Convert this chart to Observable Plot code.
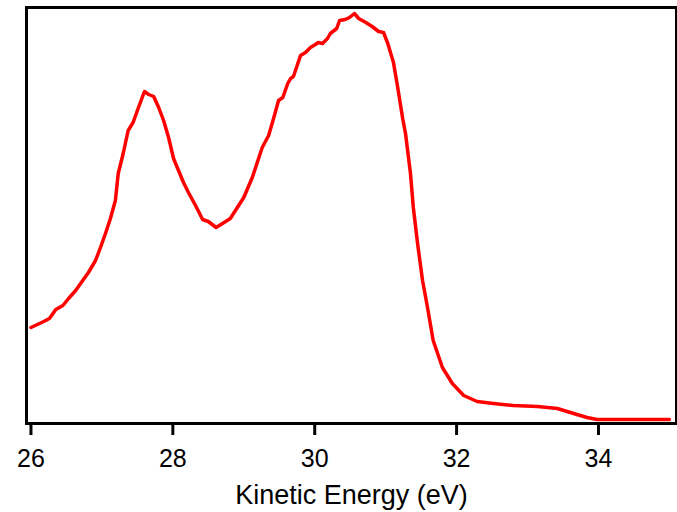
<!DOCTYPE html>
<html>
<head>
<meta charset="utf-8">
<script src="https://cdn.jsdelivr.net/npm/d3@7"></script>
<script src="https://cdn.jsdelivr.net/npm/@observablehq/plot@0.6"></script>
<style>
  html, body { margin: 0; padding: 0; background: #fff; }
</style>
</head>
<body>
<div id="chart"></div>
<script>
// Kinetic energy (eV)
const energy = [
  26.00, 26.18, 26.26, 26.35, 26.45, 26.53, 26.63, 26.70, 26.81, 26.91,
  26.98, 27.05, 27.12, 27.19, 27.23, 27.30, 27.37, 27.44, 27.50, 27.60,
  27.66, 27.73, 27.80, 27.87, 27.94, 28.01, 28.08, 28.15, 28.22, 28.32,
  28.42, 28.50, 28.61, 28.70, 28.81, 29.00, 29.12, 29.26, 29.35, 29.42,
  29.49, 29.55, 29.62, 29.66, 29.70, 29.80, 29.87, 29.94, 30.01, 30.05,
  30.11, 30.18, 30.22, 30.31, 30.35, 30.43, 30.49, 30.56, 30.62, 30.72,
  30.81, 30.90, 30.97, 31.03, 31.11, 31.17, 31.24, 31.28, 31.35, 31.39,
  31.45, 31.52, 31.59, 31.67, 31.80, 31.94, 32.10, 32.29, 32.52, 32.80,
  33.14, 33.42, 33.65, 33.84, 33.98, 34.35, 35.00
];
// Intensity (arbitrary units)
const intensity = [
  24.0, 25.5, 26.25, 28.5, 29.5, 31.25, 33.25, 35.0, 37.75, 40.75,
  44.0, 47.5, 51.25, 55.75, 62.5, 67.5, 73.25, 75.25, 78.25, 83.0,
  82.25, 81.75, 79.0, 75.75, 71.5, 66.25, 63.25, 60.25, 57.75, 54.5,
  51.0, 50.5, 49.0, 50.0, 51.25, 56.5, 61.5, 69.0, 72.0, 76.25,
  80.75, 81.5, 85.0, 86.25, 86.75, 92.0, 92.75, 94.0, 94.75, 95.25,
  95.0, 96.25, 97.5, 98.75, 100.75, 101.0, 101.5, 102.5, 101.25, 100.25,
  99.25, 98.0, 97.75, 95.0, 90.25, 84.0, 76.25, 72.5, 62.5, 54.0,
  45.0, 35.75, 29.0, 20.75, 14.0, 10.0, 7.0, 5.5, 5.0, 4.5,
  4.25, 3.75, 2.5, 1.5, 1.0, 1.0, 1.0
];
const xTicks = [26, 28, 30, 32, 34];
const xLabel = "Kinetic Energy (eV)";

const data = energy.map((e, i) => ({energy: e, intensity: intensity[i]}));

const chart = Plot.plot({
  width: 677,
  height: 512,
  marginLeft: 26,
  marginRight: 1,
  marginTop: 7,
  marginBottom: 89,
  style: {fontFamily: "'Liberation Sans', Arial, Helvetica, sans-serif", background: "#fff", color: "#000"},
  x: {domain: [25.937, 35.1]},
  y: {domain: [0, 104], axis: null},
  marks: [
    Plot.line(data, {x: "energy", y: "intensity", stroke: "#ff0000", strokeWidth: 3.5, strokeLinejoin: "round"}),
    Plot.frame({stroke: "#000", strokeWidth: 3}),
    Plot.axisX({
      ticks: xTicks,
      tickSize: 12,
      tickPadding: 14,
      strokeWidth: 3,
      fontSize: 25,
      label: xLabel,
      labelAnchor: "center",
      labelArrow: "none",
      labelOffset: 80
    })
  ]
});
chart.querySelectorAll("text").forEach(t => t.setAttribute("fill", "#000"));
document.getElementById("chart").appendChild(chart);
// Enlarge the axis label
const lbl = [...chart.querySelectorAll("text")].find(t => t.textContent === xLabel);
if (lbl) lbl.setAttribute("font-size", 27);
</script>
</body>
</html>
